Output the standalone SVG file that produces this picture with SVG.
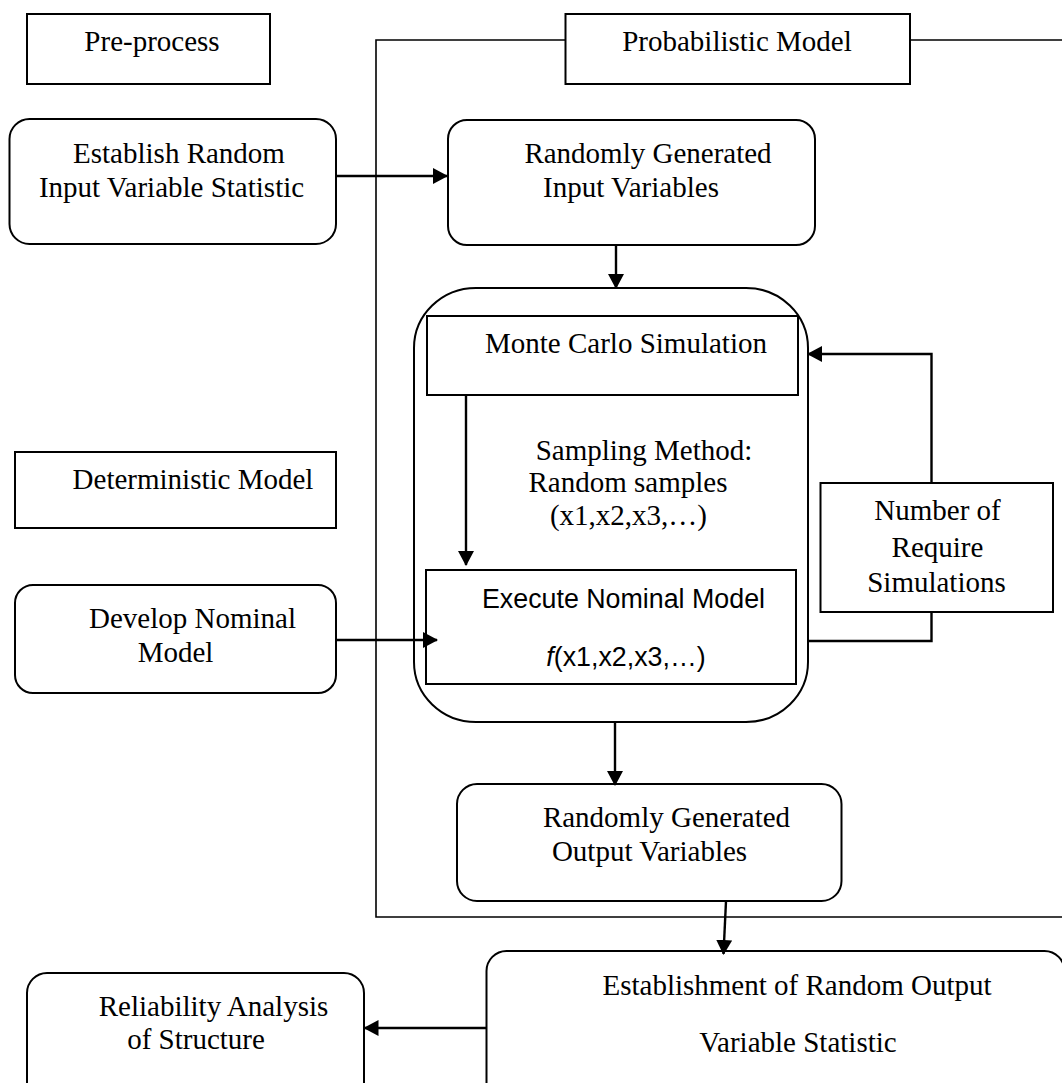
<svg xmlns="http://www.w3.org/2000/svg" width="1062" height="1083" viewBox="0 0 1062 1083">
<style>
.bx{fill:#fff;stroke:#000;stroke-width:2}
.fr{fill:none;stroke:#000;stroke-width:1.6}
.ar{fill:none;stroke:#000;stroke-width:2.4}
.t{font-family:"Liberation Serif","Times New Roman",serif;font-size:29px;fill:#000;text-anchor:middle}
.s{font-family:"Liberation Sans",Arial,sans-serif;font-size:26.8px;fill:#000;text-anchor:middle}
</style>
<defs>
<marker id="ah" markerWidth="15" markerHeight="16" refX="14" refY="8" orient="auto" markerUnits="userSpaceOnUse"><path d="M0,0 L15,8 L0,16 z" fill="#000"/></marker>
</defs>
<rect width="1062" height="1083" fill="#fff"/>
<g id="frame">
<path class="fr" d="M1062,40 L904,40 M565,40 L376,40 L376,917 L1062,917"/>
</g>
<g id="preprocess"><rect class="bx" x="27" y="14" width="243" height="70"/><text class="t" x="152" y="51">Pre-process</text></g>
<g id="probabilistic"><rect class="bx" x="565.5" y="14" width="344.5" height="70"/><text class="t" x="737" y="51">Probabilistic Model</text></g>
<g id="establish-input"><rect class="bx" x="9.5" y="119" width="326.5" height="125" rx="20"/><text class="t" x="179" y="163">Establish Random</text><text class="t" x="171.5" y="197">Input Variable Statistic</text></g>
<g id="random-input"><rect class="bx" x="448" y="120" width="367" height="125" rx="19"/><text class="t" x="648" y="163">Randomly Generated</text><text class="t" x="631" y="197">Input Variables</text></g>
<g id="simulation-loop"><rect class="bx" x="414" y="288" width="394" height="434" rx="62" ry="60"/></g>
<g id="monte-carlo"><rect class="bx" x="427" y="316" width="371" height="79"/><text class="t" x="626" y="353">Monte Carlo Simulation</text></g>
<g id="sampling"><text class="t" x="644" y="460">Sampling Method:</text><text class="t" x="628" y="492">Random samples</text><text class="t" x="628.5" y="525">(x1,x2,x3,…)</text></g>
<g id="execute"><rect class="bx" x="426" y="570" width="370" height="114"/><text class="s" x="623.5" y="608">Execute Nominal Model</text><text class="s" x="626" y="666"><tspan font-style="italic">f</tspan>(x1,x2,x3,…)</text></g>
<g id="number-sims"><rect class="bx" x="820.5" y="483" width="232.5" height="129"/><text class="t" x="937.5" y="520">Number of</text><text class="t" x="937.5" y="557">Require</text><text class="t" x="936.5" y="592">Simulations</text></g>
<g id="deterministic"><rect class="bx" x="15" y="452" width="321" height="76"/><text class="t" x="193" y="489">Deterministic Model</text></g>
<g id="develop"><rect class="bx" x="15" y="585" width="321" height="108" rx="18"/><text class="t" x="192.5" y="628">Develop Nominal</text><text class="t" x="175.5" y="662">Model</text></g>
<g id="random-output"><rect class="bx" x="457" y="784" width="384.5" height="117" rx="20"/><text class="t" x="666.5" y="827">Randomly Generated</text><text class="t" x="649.5" y="861">Output Variables</text></g>
<g id="establish-output"><rect class="bx" x="486.5" y="951" width="578" height="170" rx="20"/><text class="t" x="797" y="995">Establishment of Random Output</text><text class="t" x="798" y="1052">Variable Statistic</text></g>
<g id="reliability"><rect class="bx" x="27" y="973" width="337" height="150" rx="20"/><text class="t" x="213.5" y="1016">Reliability Analysis</text><text class="t" x="196" y="1049">of Structure</text></g>
<g id="connectors">
<line class="ar" x1="336" y1="176" x2="447" y2="176" marker-end="url(#ah)"/>
<line class="ar" x1="616" y1="245" x2="616" y2="288" marker-end="url(#ah)"/>
<line class="ar" x1="466" y1="395" x2="466" y2="565" marker-end="url(#ah)"/>
<line class="ar" x1="336" y1="640" x2="437" y2="640" marker-end="url(#ah)"/>
<polyline class="ar" points="808,641 931.5,641 931.5,612"/>
<polyline class="ar" points="931.5,483 931.5,354 808,354" marker-end="url(#ah)"/>
<line class="ar" x1="615" y1="722" x2="615" y2="785" marker-end="url(#ah)"/>
<line class="ar" x1="726" y1="901" x2="723.5" y2="954" marker-end="url(#ah)"/>
<line class="ar" x1="486.5" y1="1028" x2="364.5" y2="1028" marker-end="url(#ah)"/>
</g>
</svg>
